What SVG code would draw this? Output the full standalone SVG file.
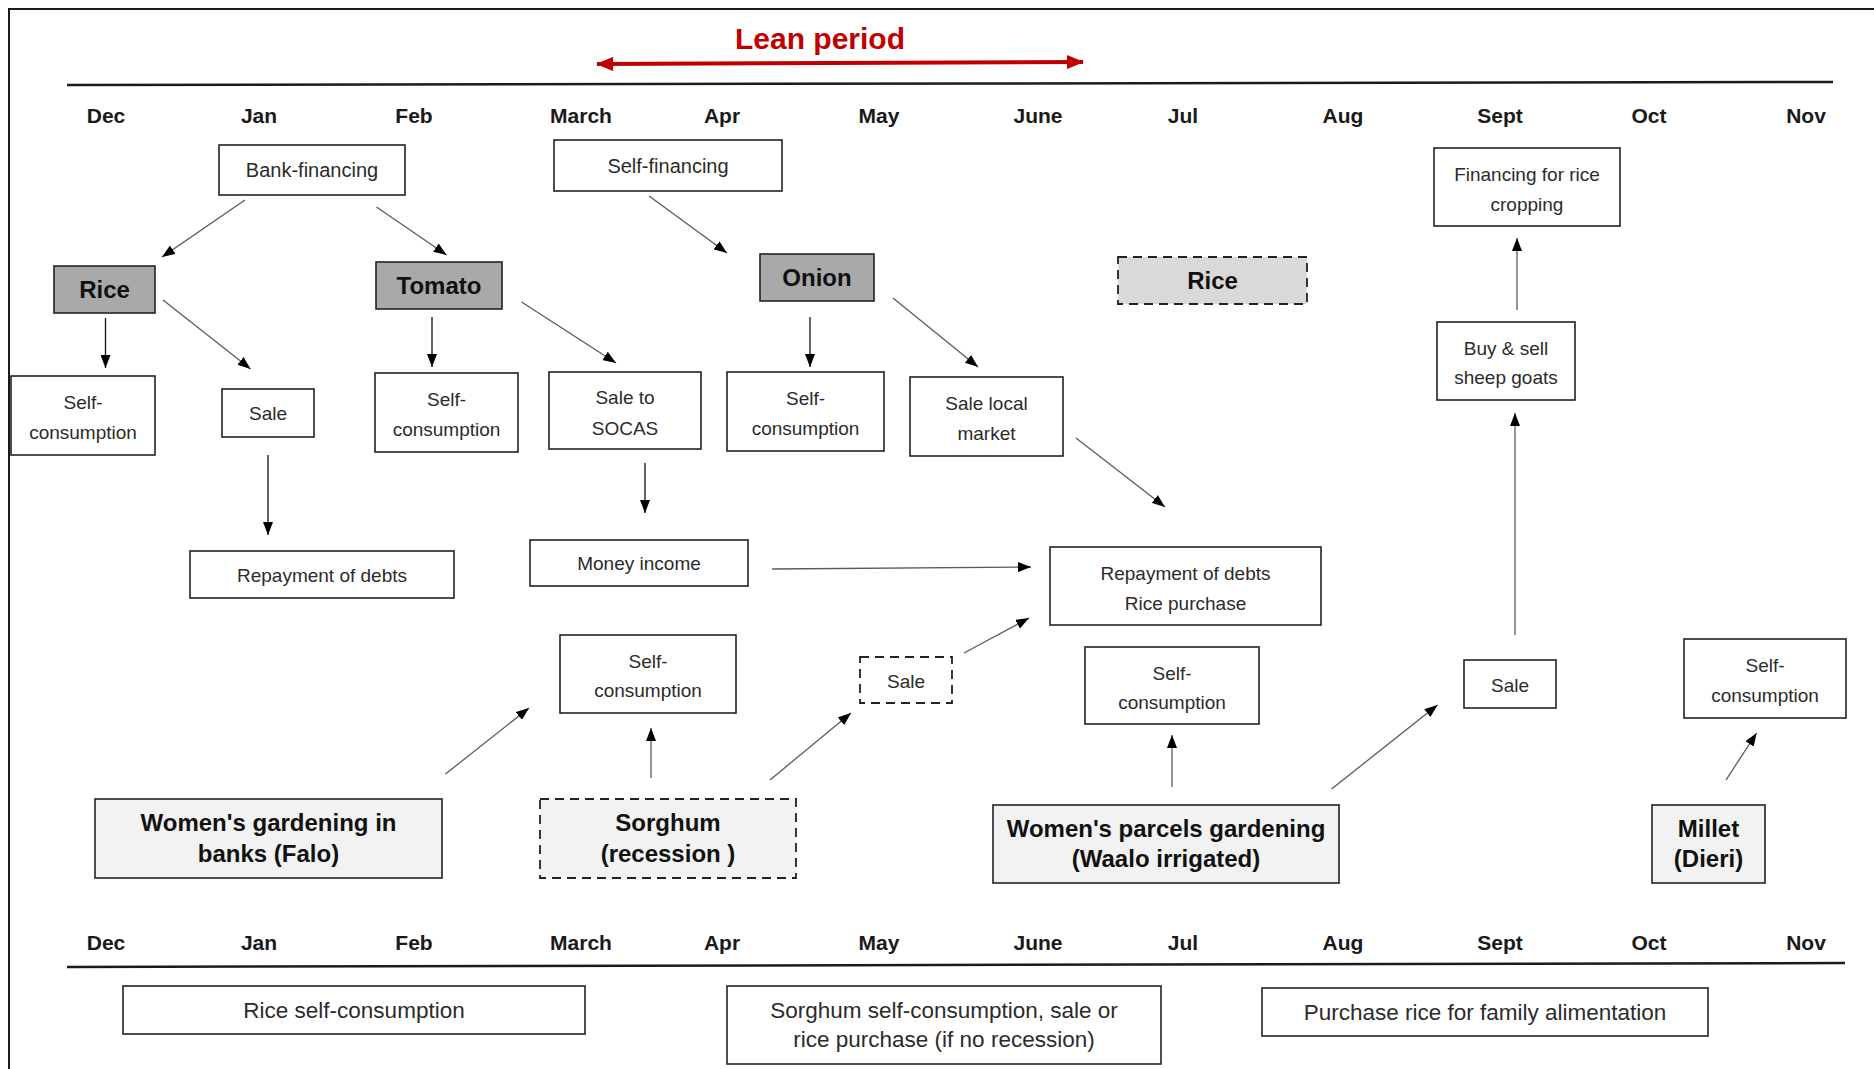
<svg xmlns="http://www.w3.org/2000/svg" width="1874" height="1069" viewBox="0 0 1874 1069">
<style>
text{font-family:"Liberation Sans",Arial,sans-serif;text-anchor:middle;}
.m{font-size:21px;font-weight:bold;fill:#1a1a1a;}
.t{font-size:19px;fill:#2b2b2b;}
.t20{font-size:20px;fill:#2b2b2b;}
.b{font-size:24px;font-weight:bold;fill:#111;}
.lg{font-size:22.5px;fill:#2b2b2b;}
.box{fill:#fff;stroke:#222;stroke-width:1.6;}
.dark{fill:#a9a9a9;stroke:#222;stroke-width:1.6;}
.light{fill:#f2f2f2;stroke:#222;stroke-width:1.6;}
.dash{stroke-dasharray:9 6;stroke-width:1.8;}
.lgray{fill:#d9d9d9;}
.c{stroke:#5a5a5a;stroke-width:1.3;fill:none;marker-end:url(#ah);}
.k{stroke:#111;stroke-width:1.3;fill:none;marker-end:url(#ah);}
</style>
<defs>
<marker id="ah" markerUnits="userSpaceOnUse" markerWidth="13" markerHeight="10" refX="13" refY="5" orient="auto"><path d="M0,0 L13,5 L0,10 z" fill="#000"/></marker>
<marker id="rh" markerUnits="userSpaceOnUse" markerWidth="17" markerHeight="14" refX="16" refY="7" orient="auto-start-reverse"><path d="M0,0 L17,7 L0,14 z" fill="#c00000"/></marker>
</defs>
<rect width="1874" height="1069" fill="#fff"/>
<path d="M9,1069 V9 H1874" fill="none" stroke="#1a1a1a" stroke-width="2"/>

<g id="timeline-top">
<line x1="67" y1="85" x2="1833" y2="82" stroke="#1a1a1a" stroke-width="2.5"/>
<text class="m" x="106" y="123">Dec</text>
<text class="m" x="259" y="123">Jan</text>
<text class="m" x="414" y="123">Feb</text>
<text class="m" x="581" y="123">March</text>
<text class="m" x="722" y="123">Apr</text>
<text class="m" x="879" y="123">May</text>
<text class="m" x="1038" y="123">June</text>
<text class="m" x="1183" y="123">Jul</text>
<text class="m" x="1343" y="123">Aug</text>
<text class="m" x="1500" y="123">Sept</text>
<text class="m" x="1649" y="123">Oct</text>
<text class="m" x="1806" y="123">Nov</text>
</g>

<g id="lean-period">
<text x="820" y="49" style="font-size:30px;font-weight:bold;fill:#c00000">Lean period</text>
<line x1="597" y1="64" x2="1083" y2="62" stroke="#c00000" stroke-width="4" marker-start="url(#rh)" marker-end="url(#rh)"/>
</g>

<g id="timeline-bottom">
<line x1="67" y1="967" x2="1845" y2="963" stroke="#1a1a1a" stroke-width="2.5"/>
<text class="m" x="106" y="950">Dec</text>
<text class="m" x="259" y="950">Jan</text>
<text class="m" x="414" y="950">Feb</text>
<text class="m" x="581" y="950">March</text>
<text class="m" x="722" y="950">Apr</text>
<text class="m" x="879" y="950">May</text>
<text class="m" x="1038" y="950">June</text>
<text class="m" x="1183" y="950">Jul</text>
<text class="m" x="1343" y="950">Aug</text>
<text class="m" x="1500" y="950">Sept</text>
<text class="m" x="1649" y="950">Oct</text>
<text class="m" x="1806" y="950">Nov</text>
</g>

<g id="bank-financing"><rect class="box" x="219" y="145" width="186" height="50"/><text class="t20" x="312" y="177">Bank-financing</text></g>
<g id="self-financing"><rect class="box" x="554" y="140" width="228" height="51"/><text class="t20" x="668" y="172.5">Self-financing</text></g>
<g id="rice-1"><rect class="dark" x="54" y="266" width="101" height="47"/><text class="b" x="104.5" y="298">Rice</text></g>
<g id="tomato"><rect class="dark" x="376" y="262" width="126" height="47"/><text class="b" x="439" y="294">Tomato</text></g>
<g id="onion"><rect class="dark" x="760" y="254" width="114" height="47"/><text class="b" x="817" y="286">Onion</text></g>
<g id="rice-2"><rect class="box lgray dash" x="1118" y="257" width="189" height="47"/><text class="b" x="1212.5" y="289">Rice</text></g>
<g id="financing-rice"><rect class="box" x="1434" y="148" width="186" height="78"/><text class="t" x="1527" y="181">Financing for rice</text><text class="t" x="1527" y="211">cropping</text></g>

<g id="self-consumption-1"><rect class="box" x="11" y="376" width="144" height="79"/><text class="t" x="83" y="409">Self-</text><text class="t" x="83" y="439">consumption</text></g>
<g id="sale-1"><rect class="box" x="222" y="389" width="92" height="48"/><text class="t" x="268" y="420">Sale</text></g>
<g id="repayment-1"><rect class="box" x="190" y="551" width="264" height="47"/><text class="t" x="322" y="581.5">Repayment of debts</text></g>
<g id="self-consumption-2"><rect class="box" x="375" y="373" width="143" height="79"/><text class="t" x="446.5" y="406">Self-</text><text class="t" x="446.5" y="436">consumption</text></g>
<g id="sale-socas"><rect class="box" x="549" y="372" width="152" height="77"/><text class="t" x="625" y="404">Sale to</text><text class="t" x="625" y="435">SOCAS</text></g>
<g id="money-income"><rect class="box" x="530" y="540" width="218" height="46"/><text class="t" x="639" y="570">Money income</text></g>
<g id="self-consumption-3"><rect class="box" x="727" y="372" width="157" height="79"/><text class="t" x="805.5" y="405">Self-</text><text class="t" x="805.5" y="435">consumption</text></g>
<g id="sale-local-market"><rect class="box" x="910" y="377" width="153" height="79"/><text class="t" x="986.5" y="410">Sale local</text><text class="t" x="986.5" y="440">market</text></g>
<g id="repayment-2"><rect class="box" x="1050" y="547" width="271" height="78"/><text class="t" x="1185.5" y="580">Repayment of debts</text><text class="t" x="1185.5" y="610">Rice purchase</text></g>
<g id="buy-sell"><rect class="box" x="1437" y="322" width="138" height="78"/><text class="t" x="1506" y="355">Buy &amp; sell</text><text class="t" x="1506" y="384">sheep goats</text></g>

<g id="self-consumption-4"><rect class="box" x="560" y="635" width="176" height="78"/><text class="t" x="648" y="667.5">Self-</text><text class="t" x="648" y="697">consumption</text></g>
<g id="sale-2"><rect class="box dash" x="860" y="657" width="92" height="46"/><text class="t" x="906" y="688">Sale</text></g>
<g id="self-consumption-5"><rect class="box" x="1085" y="647" width="174" height="77"/><text class="t" x="1172" y="679.5">Self-</text><text class="t" x="1172" y="708.5">consumption</text></g>
<g id="sale-3"><rect class="box" x="1464" y="660" width="92" height="48"/><text class="t" x="1510" y="692">Sale</text></g>
<g id="self-consumption-6"><rect class="box" x="1684" y="639" width="162" height="79"/><text class="t" x="1765" y="672">Self-</text><text class="t" x="1765" y="702">consumption</text></g>

<g id="women-falo"><rect class="light" x="95" y="799" width="347" height="79"/><text class="b" x="268.5" y="831">Women's gardening in</text><text class="b" x="268.5" y="862">banks (Falo)</text></g>
<g id="sorghum"><rect class="light dash" x="540" y="799" width="256" height="79"/><text class="b" x="668" y="831">Sorghum</text><text class="b" x="668" y="862">(recession )</text></g>
<g id="women-waalo"><rect class="light" x="993" y="805" width="346" height="78"/><text class="b" x="1166" y="836.5">Women's parcels gardening</text><text class="b" x="1166" y="867">(Waalo irrigated)</text></g>
<g id="millet"><rect class="light" x="1652" y="805" width="113" height="78"/><text class="b" x="1708.5" y="836.5">Millet</text><text class="b" x="1708.5" y="867">(Dieri)</text></g>

<g id="legend-rice"><rect class="box" x="123" y="986" width="462" height="48"/><text class="lg" x="354" y="1018">Rice self-consumption</text></g>
<g id="legend-sorghum"><rect class="box" x="727" y="986" width="434" height="78"/><text class="lg" x="944" y="1018">Sorghum self-consumption, sale or</text><text class="lg" x="944" y="1047">rice purchase (if no recession)</text></g>
<g id="legend-purchase"><rect class="box" x="1262" y="988" width="446" height="48"/><text class="lg" x="1485" y="1020">Purchase rice for family alimentation</text></g>

<g id="connectors">
<line class="c" x1="245" y1="200" x2="162" y2="257"/>
<line class="c" x1="376.5" y1="207" x2="446.6" y2="255"/>
<line class="c" x1="649" y1="196" x2="727" y2="253"/>
<line class="k" x1="105.5" y1="318" x2="105.5" y2="368"/>
<line class="c" x1="163" y1="300" x2="250.6" y2="369"/>
<line class="k" x1="268" y1="455" x2="268" y2="535"/>
<line class="k" x1="432" y1="317" x2="432" y2="367"/>
<line class="c" x1="521.6" y1="302" x2="616" y2="363"/>
<line class="k" x1="645" y1="463" x2="645" y2="513"/>
<line class="k" x1="810" y1="317" x2="810" y2="367"/>
<line class="c" x1="893" y1="298" x2="978" y2="367"/>
<line class="c" x1="1076" y1="438" x2="1165" y2="507"/>
<line class="c" x1="772" y1="569" x2="1031" y2="567"/>
<line class="c" x1="964" y1="653" x2="1029" y2="618"/>
<line class="c" x1="445.5" y1="774" x2="529" y2="708"/>
<line class="c" x1="651" y1="778" x2="651" y2="728"/>
<line class="c" x1="770" y1="780" x2="851" y2="713"/>
<line class="c" x1="1172" y1="787" x2="1172" y2="735"/>
<line class="c" x1="1331.6" y1="789" x2="1437.5" y2="705"/>
<line class="c" x1="1515" y1="635" x2="1515" y2="413"/>
<line class="c" x1="1517" y1="310" x2="1517" y2="238"/>
<line class="c" x1="1726" y1="780" x2="1756.6" y2="733"/>
</g>
</svg>
